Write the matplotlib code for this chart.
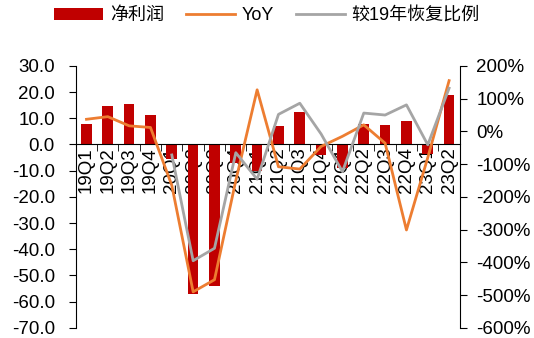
import numpy as np
import matplotlib
matplotlib.use("Agg")
import matplotlib.pyplot as plt
from matplotlib.ticker import FuncFormatter, FixedLocator

plt.rcParams['font.family'] = ['Liberation Sans', 'Noto Sans CJK SC', 'DejaVu Sans']

quarters = ['19Q1', '19Q2', '19Q3', '19Q4', '20Q1', '20Q2', '20Q3', '20Q4',
            '21Q1', '21Q2', '21Q3', '21Q4', '22Q1', '22Q2', '22Q3', '22Q4',
            '23Q1', '23Q2']
# 净利润 (left axis)
profit = [7.8, 14.7, 15.3, 11.3, -5.5, -57.0, -54.0, -7.0,
          -10.0, 7.0, 12.5, -4.2, -9.0, 7.8, 7.3, 8.9,
          -3.6, 18.8]
# YoY (%), right axis
yoy = [37, 45, 17, 12, -165, -490, -453, -150,
       127, -108, -115, -46, -15, 20, -36, -301,
       -80, 155]
# 较19年恢复比例 (%), right axis, nothing for 2019
recovery = [np.nan, np.nan, np.nan, np.nan, -72, -395, -357, -65,
            -146, 52, 86, -8, -123, 56, 50, 81,
            -41, 132]

red = '#C00000'
orange = '#ED7D31'
gray = '#A5A5A5'

fig = plt.figure(figsize=(5.34, 3.38), dpi=100)
ax = fig.add_axes([0.142, 0.03, 0.719, 0.775])
ax2 = ax.twinx()

x = np.arange(len(quarters))
b = ax.bar(x, profit, width=0.5, color=red, zorder=2)
l1, = ax2.plot(x, yoy, color=orange, lw=2, zorder=3)
l2, = ax2.plot(x, recovery, color=gray, lw=2, zorder=3)

ax.set_xlim(-0.5, len(quarters) - 0.5)
ax.set_ylim(-70, 30)
ax.set_yticks(np.arange(-70, 31, 10))
ax.yaxis.set_major_formatter(FuncFormatter(lambda v, p: '%.1f' % v))
ax2.set_ylim(-600, 200)
ax2.set_yticks(np.arange(-600, 201, 100))
ax2.yaxis.set_major_formatter(FuncFormatter(lambda v, p: '%d%%' % v))

# x axis sits on the zero line
ax.spines['bottom'].set_position(('data', 0))
for a in (ax, ax2):
    a.spines['top'].set_visible(False)
ax.spines['right'].set_visible(False)
ax2.spines['bottom'].set_visible(False)
ax2.spines['left'].set_visible(False)

ax.set_xticks(x)
ax.set_xticklabels(quarters, rotation=90, fontsize=13.5)
ax.tick_params(axis='x', which='major', length=0, pad=2)
ax.xaxis.set_minor_locator(FixedLocator(np.arange(-0.5, len(quarters), 1)))
ax.tick_params(axis='x', which='minor', length=5, direction='out')
ax.tick_params(axis='y', labelsize=13.5, length=5, direction='out', pad=10)
ax2.tick_params(axis='y', labelsize=13.5, length=5, direction='out', pad=7)

fig.legend([b, l1, l2], ['净利润', 'YoY', '较19年恢复比例'],
           loc='center', bbox_to_anchor=(0.5, 0.953), ncol=3, frameon=False,
           fontsize=13, handlelength=2.7, columnspacing=1.2, handletextpad=0.4)

fig.savefig('out.png', dpi=100)
